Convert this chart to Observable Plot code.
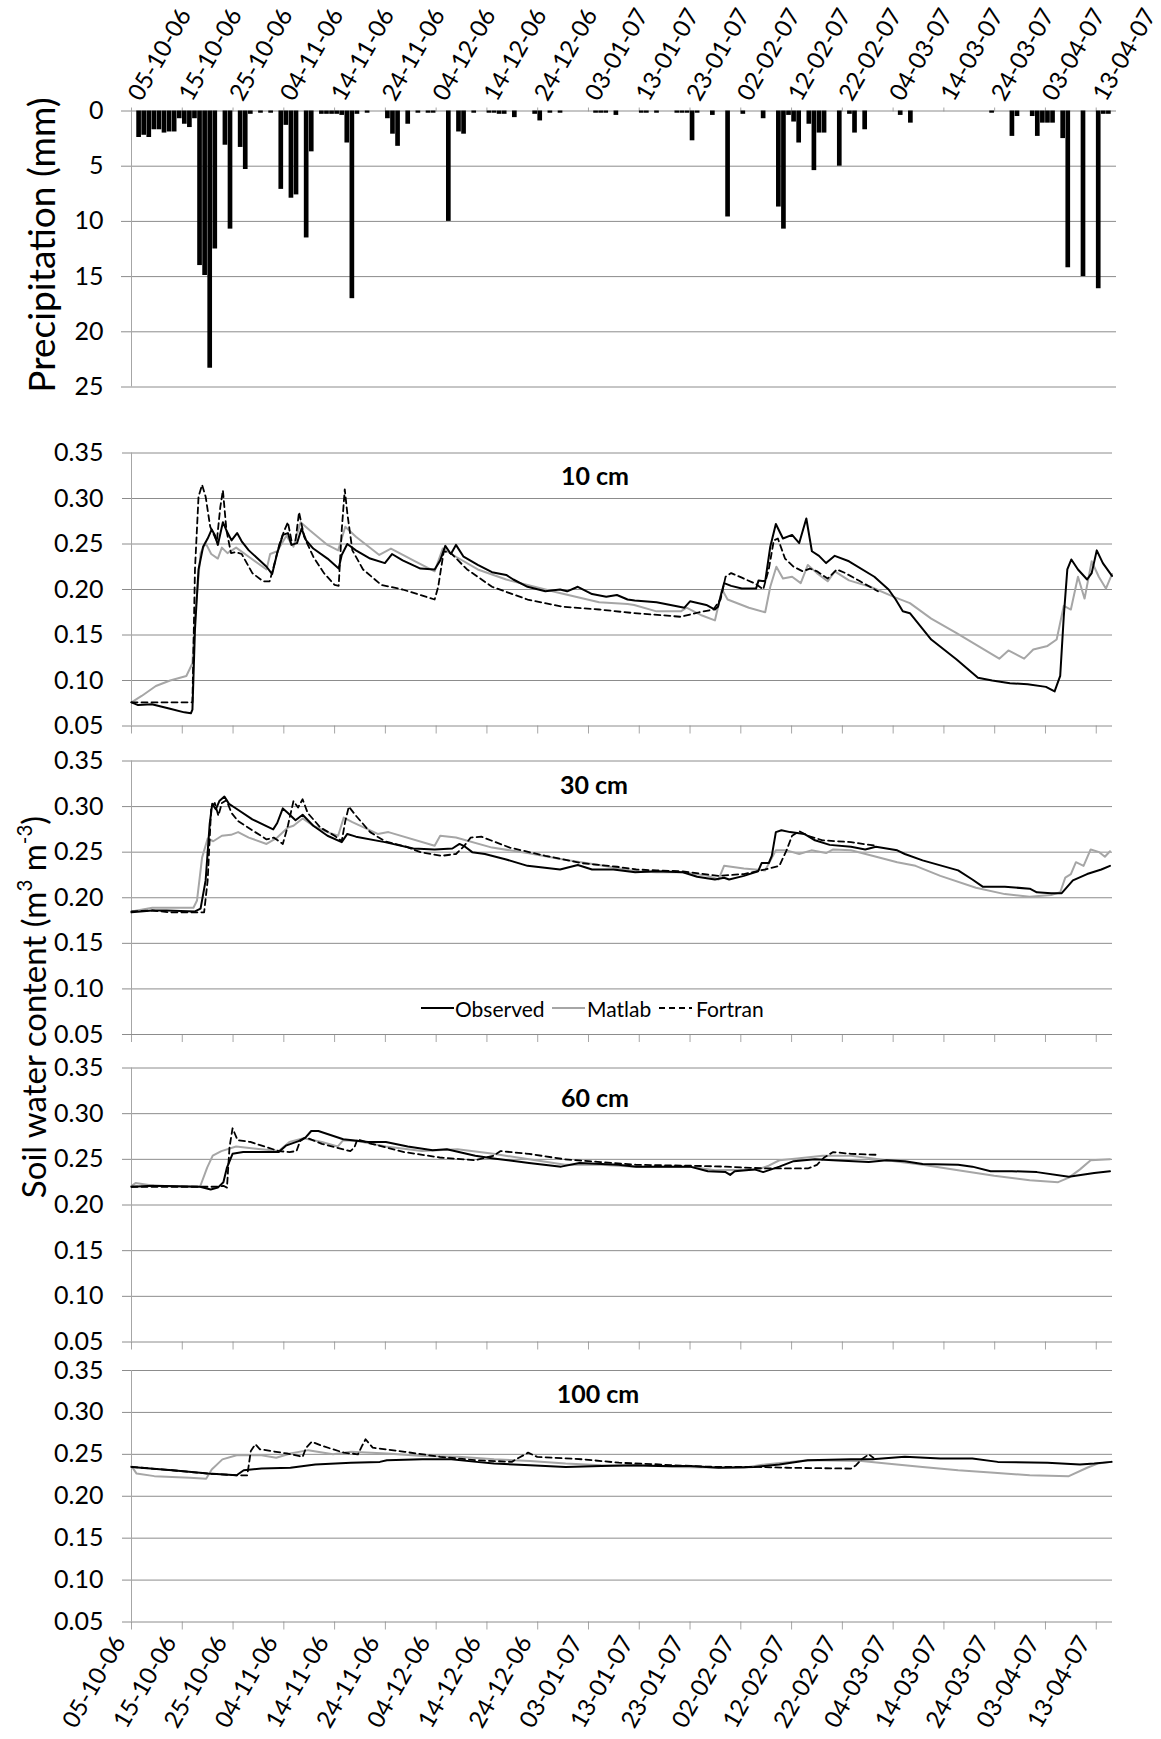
<!DOCTYPE html>
<html><head><meta charset="utf-8">
<script src="https://cdn.jsdelivr.net/npm/d3@7"></script>
<script src="https://cdn.jsdelivr.net/npm/@observablehq/plot@0.6"></script>
<style>
html,body{margin:0;padding:0;background:#fff;}
#chart{position:relative;width:1161px;height:1739px;overflow:hidden;font-family:Lato,"Open Sans",sans-serif;color:#000;background:#fff;}
.panel{position:absolute;left:0;}
.title{position:absolute;font-weight:700;font-size:25px;transform:translate(-50%,-50%);white-space:nowrap;}
.ylab{position:absolute;font-size:37px;transform:translate(-50%,-50%) rotate(-90deg);white-space:nowrap;}
.ylab.soil{font-size:33px;}
.ylab sup{font-size:62%;position:relative;top:-0.1em;}
.leg{position:absolute;font-size:21px;white-space:nowrap;transform:translateY(-50%);line-height:1;}
.sw{position:absolute;transform:translateY(-50%);}
</style></head><body><div id="chart"></div><script>
// ---------- data ----------
const tickLabels = ["05-10-06","15-10-06","25-10-06","04-11-06","14-11-06","24-11-06","04-12-06","14-12-06","24-12-06","03-01-07","13-01-07","23-01-07","02-02-07","12-02-07","22-02-07","04-03-07","14-03-07","24-03-07","03-04-07","13-04-07"];
const precipTicks = [0,5,10,15,20,25];
const swcTicks = [0.05,0.10,0.15,0.20,0.25,0.30,0.35];
const panelTitles = ["10 cm","30 cm","60 cm","100 cm"];
const seriesNames = ["Observed","Matlab","Fortran"];
const precipLabel = "Precipitation (mm)";

// [day since 05-10-06, mm]
const precip = [[1,2.4],[2,2.2],[3,2.4],[4,1.7],[5,1.7],[6,2.0],[7,1.9],[8,1.9],[9,0.7],[10,1.2],[11,1.5],[12,0.7],[13,14.0],[14,14.9],[15,23.3],[16,12.5],[18,3.1],[19,10.7],[21,3.3],[22,5.3],[23,0.3],[25,0.2],[27,0.2],[29,7.1],[30,1.3],[31,7.9],[32,7.6],[34,11.5],[35,3.7],[37,0.3],[38,0.3],[39,0.3],[40,0.3],[41,0.4],[42,2.9],[43,17.0],[44,0.3],[46,0.2],[50,0.7],[51,2.1],[52,3.2],[54,1.2],[56,0.2],[58,0.2],[59,0.2],[62,10.0],[64,1.9],[65,2.1],[67,0.2],[70,0.2],[71,0.2],[72,0.3],[73,0.3],[75,0.6],[79,0.3],[80,0.9],[82,0.2],[84,0.2],[91,0.2],[92,0.2],[93,0.2],[95,0.4],[100,0.2],[101,0.2],[103,0.2],[107,0.2],[108,0.2],[109,0.2],[110,2.7],[111,0.2],[114,0.4],[117,9.6],[120,0.3],[124,0.7],[127,8.7],[128,10.7],[129,0.4],[130,1.0],[131,2.9],[133,1.2],[134,5.4],[135,2.0],[136,2.0],[139,5.0],[141,0.3],[142,2.0],[144,1.7],[151,0.4],[153,1.1],[169,0.2],[173,2.3],[174,0.5],[177,0.5],[178,2.3],[179,1.1],[180,1.1],[181,1.1],[183,2.5],[184,14.2],[187,15.0],[190,16.1],[191,0.3],[192,0.3]];

// [day since 05-10-06, m3 m-3]
const obs10 = [[0,0.076],[1.3,0.073],[4,0.074],[7.6,0.069],[10.4,0.065],[11.7,0.064],[12,0.068],[12.5,0.156],[13.2,0.222],[14.1,0.247],[15,0.256],[15.8,0.266],[16.4,0.260],[17,0.249],[18,0.274],[18.7,0.265],[19.7,0.254],[20.8,0.262],[21.7,0.253],[23.1,0.243],[26.6,0.225],[27.7,0.217],[28.7,0.240],[29.8,0.260],[30.8,0.262],[31.5,0.249],[32.6,0.251],[33.5,0.267],[34.4,0.254],[35.8,0.245],[38.6,0.234],[40.8,0.223],[41.4,0.238],[42.5,0.250],[44.2,0.243],[47,0.234],[49.9,0.229],[51.3,0.239],[53.4,0.232],[56.9,0.223],[59.7,0.222],[60.8,0.232],[61.8,0.248],[62.9,0.239],[63.9,0.249],[65.4,0.236],[68.2,0.227],[71,0.219],[73.8,0.216],[75.2,0.211],[78,0.203],[81.5,0.198],[84.4,0.200],[85.8,0.198],[87.9,0.203],[90.7,0.195],[93.5,0.192],[95.6,0.194],[97.7,0.189],[99.1,0.188],[103.4,0.186],[108.9,0.180],[110,0.187],[113.2,0.183],[114.9,0.178],[115.5,0.181],[116.7,0.207],[118.1,0.204],[120.2,0.201],[123,0.201],[123.5,0.210],[124.8,0.209],[125.8,0.247],[126.9,0.272],[128.3,0.256],[130.1,0.260],[131.5,0.251],[132.9,0.278],[134,0.242],[135.4,0.237],[136.8,0.229],[138.5,0.237],[141.3,0.231],[146.3,0.214],[149.1,0.200],[150.5,0.189],[151.9,0.176],[153.3,0.174],[157.5,0.145],[162.5,0.123],[166.7,0.103],[169.5,0.100],[173,0.097],[176.5,0.096],[180.1,0.093],[181.8,0.088],[182.9,0.105],[183.6,0.170],[184.3,0.222],[185.1,0.233],[186.4,0.222],[188.2,0.211],[189.1,0.218],[190.1,0.243],[191.3,0.229],[193.1,0.215]];
const mat10 = [[0,0.076],[2,0.083],[4.8,0.094],[7.6,0.100],[10.8,0.105],[12,0.119],[12.5,0.170],[13.6,0.240],[14.6,0.251],[15.7,0.239],[17,0.234],[17.8,0.246],[18.9,0.240],[20.6,0.246],[23.1,0.236],[26.6,0.222],[27.3,0.239],[28.7,0.242],[30.5,0.259],[31.9,0.247],[33.3,0.274],[35.1,0.265],[38.6,0.249],[40.7,0.243],[42.1,0.269],[44.2,0.258],[48.8,0.238],[51.1,0.245],[55.5,0.232],[59.7,0.220],[61.3,0.245],[63.9,0.236],[68.2,0.222],[73.8,0.211],[78,0.205],[83.7,0.197],[92.1,0.186],[97.7,0.184],[99,0.183],[103.4,0.176],[108.2,0.176],[109.3,0.180],[112.1,0.172],[114.9,0.166],[116.3,0.200],[117.4,0.189],[121.6,0.180],[124.8,0.175],[125.8,0.203],[127,0.225],[128.3,0.212],[130.1,0.214],[131.8,0.207],[133.2,0.227],[135,0.218],[137.1,0.209],[138.5,0.220],[141.3,0.210],[145.5,0.203],[150.5,0.191],[153.3,0.185],[157.5,0.168],[162.5,0.152],[166.7,0.138],[170.9,0.124],[172.7,0.133],[175.8,0.124],[177.6,0.134],[180.4,0.138],[182.2,0.145],[183.6,0.182],[185,0.178],[186.4,0.214],[187.7,0.190],[189.1,0.231],[190.5,0.214],[191.9,0.201],[193.1,0.217]];
const for10 = [[0,0.076],[12,0.076],[12.5,0.222],[13.2,0.302],[13.9,0.315],[14.6,0.302],[15.5,0.269],[16.8,0.253],[17.5,0.291],[18,0.309],[18.7,0.265],[19.6,0.240],[20.6,0.241],[21.7,0.239],[23.8,0.218],[25.9,0.209],[27.2,0.209],[28,0.225],[29.1,0.249],[30.1,0.265],[30.8,0.274],[31.5,0.254],[32.3,0.254],[33,0.285],[34,0.258],[35.8,0.236],[37.9,0.218],[40,0.205],[40.8,0.204],[41.4,0.265],[42,0.310],[42.5,0.284],[43.5,0.243],[45.6,0.222],[49.2,0.205],[53.4,0.200],[59.7,0.189],[60.4,0.203],[61.5,0.242],[62.9,0.240],[66.1,0.222],[71,0.203],[78,0.189],[85,0.181],[92.1,0.178],[99,0.174],[106.1,0.171],[108.2,0.170],[111.8,0.175],[114.6,0.178],[116,0.189],[117,0.214],[118.1,0.218],[120.2,0.213],[123,0.206],[124.4,0.200],[125.5,0.222],[126.5,0.254],[127.3,0.256],[128.7,0.234],[130.4,0.225],[132.2,0.220],[133.6,0.223],[135,0.220],[137.1,0.212],[138.9,0.222],[140.6,0.218],[143.5,0.209],[147,0.198]];

const obs30 = [[0,0.184],[4.1,0.186],[6.9,0.186],[12.5,0.185],[13.6,0.188],[14.6,0.219],[15.4,0.281],[15.9,0.303],[16.6,0.297],[17.3,0.306],[18.3,0.311],[19.2,0.303],[20.3,0.299],[23.8,0.286],[27.9,0.275],[28.7,0.282],[29.8,0.298],[30.8,0.293],[32.3,0.285],[33.7,0.291],[35.8,0.279],[38.6,0.268],[41.4,0.261],[42.5,0.270],[44.2,0.267],[49.9,0.261],[55.5,0.254],[59.7,0.253],[63.2,0.254],[64.6,0.259],[65.7,0.256],[67.1,0.250],[69.6,0.248],[73.8,0.242],[78,0.235],[84.4,0.231],[87.9,0.236],[90.7,0.231],[94.9,0.231],[99.2,0.228],[103.4,0.229],[108.6,0.228],[111.4,0.223],[114.9,0.220],[116.7,0.222],[117.7,0.220],[120.6,0.224],[123.4,0.229],[124.1,0.238],[125.5,0.238],[126.1,0.246],[126.9,0.272],[128,0.274],[129.7,0.272],[132.5,0.270],[134.6,0.263],[137.5,0.258],[141.7,0.256],[144.5,0.253],[146.6,0.256],[150.8,0.252],[152.3,0.248],[155.8,0.241],[162.8,0.230],[165.6,0.220],[167.7,0.212],[172,0.212],[176.9,0.210],[178.3,0.206],[181.1,0.205],[183.2,0.205],[185.4,0.219],[188.2,0.226],[191,0.231],[192.7,0.235]];
const mat30 = [[0,0.185],[4.1,0.189],[12.2,0.189],[12.9,0.197],[13.9,0.244],[15,0.265],[16.1,0.262],[17.8,0.268],[19.6,0.269],[21,0.272],[23.1,0.266],[26.6,0.259],[28.7,0.266],[30.8,0.277],[31.9,0.279],[33.7,0.287],[35.8,0.279],[38.6,0.272],[40.7,0.268],[41.8,0.288],[43.5,0.283],[48.5,0.270],[50.6,0.272],[59.7,0.257],[60.8,0.268],[63.9,0.266],[71,0.255],[78,0.249],[85,0.242],[92.1,0.236],[99.2,0.229],[103.4,0.228],[108.6,0.228],[113.5,0.224],[115.6,0.220],[116.7,0.235],[120.6,0.232],[124.8,0.230],[126.9,0.252],[129,0.252],[131.5,0.248],[133.9,0.252],[136.8,0.249],[138.2,0.253],[141.7,0.252],[145.9,0.246],[150.8,0.239],[154.4,0.235],[159.3,0.224],[166.3,0.211],[172,0.204],[176.9,0.201],[181.1,0.203],[182.9,0.206],[183.9,0.222],[185,0.226],[186,0.239],[187.5,0.235],[188.9,0.253],[190.6,0.250],[191.7,0.245],[192.7,0.251]];
const for30 = [[0,0.185],[4.1,0.186],[7.6,0.184],[14.3,0.184],[15,0.219],[15.7,0.299],[16.4,0.304],[17.1,0.290],[17.8,0.304],[18.7,0.307],[19.7,0.293],[21,0.284],[23.8,0.274],[26.6,0.264],[28,0.266],[29.8,0.259],[30.8,0.279],[31.9,0.306],[32.8,0.299],[33.7,0.308],[34.7,0.293],[37.2,0.277],[40,0.268],[41.4,0.262],[42.1,0.284],[42.8,0.300],[44.2,0.290],[47,0.272],[49.9,0.262],[54.1,0.256],[56.9,0.250],[61.1,0.246],[63.9,0.248],[65.4,0.256],[66.8,0.266],[68.9,0.267],[74.5,0.255],[81.5,0.246],[88.6,0.238],[95.6,0.234],[99.4,0.231],[103.4,0.230],[108.6,0.229],[115.6,0.224],[120.6,0.226],[124.8,0.231],[127.6,0.235],[129,0.252],[130.1,0.268],[131.5,0.273],[133.2,0.268],[136.1,0.263],[141.7,0.261],[146.6,0.257]];

const obs60 = [[0,0.220],[4.4,0.221],[13.5,0.220],[15.6,0.217],[17,0.219],[18.1,0.225],[18.8,0.241],[19.9,0.256],[22,0.258],[29,0.258],[30.4,0.265],[32.9,0.270],[34.3,0.274],[35.4,0.281],[36.8,0.281],[41.7,0.272],[46.6,0.269],[50.1,0.269],[54.4,0.264],[59.3,0.260],[62.1,0.261],[67.7,0.254],[71.3,0.251],[78.3,0.246],[84.6,0.242],[88.2,0.246],[95.9,0.244],[99.4,0.242],[103.7,0.242],[110,0.242],[113.5,0.237],[117,0.236],[117.9,0.233],[118.8,0.237],[122.7,0.239],[124.4,0.236],[127.6,0.242],[130.4,0.248],[134.6,0.250],[138.2,0.249],[145.2,0.247],[148.7,0.249],[152.3,0.248],[155.8,0.245],[162.8,0.244],[165.6,0.242],[169.2,0.237],[173.4,0.237],[178.3,0.236],[184.6,0.231],[189.6,0.235],[192.7,0.237]];
const mat60 = [[0,0.221],[0.8,0.224],[4.4,0.221],[13.5,0.220],[14.9,0.241],[16,0.254],[17.7,0.259],[20.6,0.264],[25.5,0.261],[29,0.259],[31.1,0.269],[33.9,0.273],[37.5,0.269],[40.6,0.264],[41.7,0.271],[44.5,0.270],[50.1,0.264],[57.2,0.259],[64.2,0.261],[71.3,0.256],[78.3,0.250],[85.4,0.244],[92.4,0.244],[99.4,0.242],[103.7,0.242],[110,0.242],[114.9,0.238],[123.4,0.239],[125.5,0.243],[127.6,0.249],[131.1,0.251],[136.1,0.254],[141.7,0.254],[148.7,0.249],[155.8,0.244],[162.8,0.238],[169.9,0.232],[176.9,0.227],[182.5,0.225],[184.6,0.230],[186.8,0.239],[188.9,0.249],[192.7,0.250]];
const for60 = [[0,0.220],[17,0.220],[18.1,0.221],[18.8,0.219],[19.3,0.263],[19.9,0.284],[20.9,0.271],[23.4,0.269],[29,0.259],[31.1,0.258],[32.5,0.259],[33.2,0.270],[34.3,0.274],[37.5,0.267],[43.1,0.259],[43.9,0.263],[44.5,0.272],[47.3,0.267],[53.7,0.258],[60.7,0.252],[67.7,0.249],[71.3,0.254],[72.7,0.259],[78.3,0.256],[85.4,0.250],[92.4,0.247],[99.4,0.244],[110,0.243],[117,0.242],[124.8,0.240],[133.2,0.240],[135,0.244],[136.4,0.252],[138.2,0.258],[141.7,0.256],[146.6,0.255]];

const obs100 = [[0,0.235],[8,0.231],[15.1,0.227],[20.7,0.225],[22.1,0.231],[25.6,0.233],[31.3,0.234],[36.2,0.238],[43.2,0.240],[48.9,0.241],[50.3,0.243],[57.3,0.244],[63,0.244],[67.9,0.241],[71.4,0.239],[78.5,0.237],[85.5,0.235],[92.5,0.236],[99.4,0.237],[103.8,0.236],[110,0.236],[115.6,0.234],[122.7,0.235],[127.6,0.238],[133.2,0.243],[141.7,0.244],[145.9,0.244],[152.3,0.247],[159.3,0.245],[165.6,0.245],[170.6,0.241],[180.4,0.240],[186.8,0.238],[189.6,0.239],[193,0.241]];
const mat100 = [[0,0.236],[1,0.227],[4.5,0.224],[11.5,0.222],[14.7,0.221],[15.8,0.232],[17.9,0.244],[20.7,0.249],[25.6,0.249],[28.5,0.246],[31.3,0.251],[34.8,0.255],[39.7,0.250],[43.2,0.253],[50.3,0.251],[57.3,0.248],[64.4,0.247],[71.4,0.244],[78.5,0.242],[85.5,0.239],[92.5,0.237],[103.8,0.236],[106.5,0.235],[120.6,0.234],[124.8,0.238],[133.2,0.243],[143.8,0.242],[148.7,0.239],[155.8,0.235],[162.8,0.231],[169.9,0.228],[176.9,0.225],[184.6,0.224],[188.2,0.234],[190.3,0.239],[193,0.241]];
const for100 = [[0,0.235],[8,0.231],[15.1,0.227],[20.7,0.225],[22.8,0.225],[23.5,0.254],[24.4,0.262],[25.3,0.256],[30.6,0.251],[33.7,0.247],[34.4,0.258],[35.5,0.265],[37.6,0.260],[41.8,0.252],[44.6,0.250],[45.4,0.260],[46.1,0.268],[47.5,0.258],[53.8,0.253],[60.8,0.247],[67.9,0.243],[74.9,0.241],[76.3,0.246],[78.1,0.252],[79.9,0.247],[89,0.244],[96,0.240],[103.8,0.238],[106.5,0.237],[114.9,0.235],[123.4,0.235],[129,0.234],[141.7,0.233],[142.7,0.237],[143.8,0.244],[145.2,0.250],[146.1,0.246]];

// ---------- layout & style ----------
const W = 1161;
const FONT = "Lato, 'Open Sans', sans-serif";
const GRID = "#8c8c8c", AXIS = "#a6a6a6", MATLAB = "#a6a6a6", INK = "#000";
const DATE_FS = 24, DATE_ROT = -60;
const start = new Date(Date.UTC(2006, 9, 5));
const day = d => new Date(start.getTime() + d * 864e5);
const parseTick = d3.utcParse("%d-%m-%y");
const tickDates = tickLabels.map(parseTick);
const fmt2 = d3.format(".2f");
const rows = s => s.map(([d, v]) => ({date: day(d), v}));

const chart = document.getElementById("chart");
function place(node, top) {
  const div = document.createElement("div");
  div.className = "panel"; div.style.top = top + "px";
  div.appendChild(node); chart.appendChild(div);
}

// precipitation panel
place(Plot.plot({
  width: W, height: 400, marginLeft: 131, marginRight: 45, marginTop: 110.5, marginBottom: 13.5,
  style: {background: "transparent", color: AXIS, fontFamily: FONT, overflow: "visible"},
  x: {type: "utc", domain: [start, day(194)], axis: "top", ticks: tickDates, tickSize: 4, tickFormat: () => "", label: null},
  y: {domain: [0, 25], reverse: true, axis: null},
  marks: [
    Plot.ruleY(precipTicks, {stroke: GRID, strokeWidth: 1, insetLeft: -10}),
    Plot.ruleX([start], {stroke: AXIS, strokeWidth: 1}),
    Plot.rect(precip, {x1: d => day(d[0]), x2: d => day(d[0] + 1), y1: 0, y2: d => d[1], fill: INK, insetLeft: 0.2, insetRight: 0.2}),
    Plot.text(precipTicks, {y: d => d, text: d => String(d), frameAnchor: "left", textAnchor: "end", dx: -28, fontSize: 25, fill: INK, fontFamily: FONT}),
    Plot.text(tickDates, {x: d => d, text: (d, i) => tickLabels[i], frameAnchor: "top", rotate: DATE_ROT, textAnchor: "start", dx: -5, dy: -17, fontSize: DATE_FS, fill: INK, fontFamily: FONT})
  ]
}), 0);

// soil water panels
const panels = [
  {obs: obs10, mat: mat10, fort: for10, top: 430, height: 310, y0: 452.5, y1: 725.5},
  {obs: obs30, mat: mat30, fort: for30, top: 740, height: 310, y0: 760.5, y1: 1034},
  {obs: obs60, mat: mat60, fort: for60, top: 1050, height: 305, y0: 1067.5, y1: 1341.5},
  {obs: obs100, mat: mat100, fort: for100, top: 1355, height: 384, y0: 1370, y1: 1621.5, labels: true}
];
panels.forEach(p => {
  const marks = [
    Plot.ruleY(swcTicks, {stroke: GRID, strokeWidth: 1, insetLeft: -9}),
    Plot.ruleX([start], {stroke: AXIS, strokeWidth: 1}),
    Plot.text(swcTicks, {y: d => d, text: d => fmt2(d), frameAnchor: "left", textAnchor: "end", dx: -28, fontSize: 25, fill: INK, fontFamily: FONT}),
    Plot.line(rows(p.mat), {x: "date", y: "v", stroke: MATLAB, strokeWidth: 2}),
    Plot.line(rows(p.fort), {x: "date", y: "v", stroke: INK, strokeWidth: 1.8, strokeDasharray: "6,4"}),
    Plot.line(rows(p.obs), {x: "date", y: "v", stroke: INK, strokeWidth: 2})
  ];
  if (p.labels) marks.push(Plot.text(tickDates, {x: d => d, text: (d, i) => tickLabels[i], frameAnchor: "bottom", rotate: DATE_ROT, textAnchor: "end", dx: -5, dy: 20, fontSize: DATE_FS, fill: INK, fontFamily: FONT}));
  place(Plot.plot({
    width: W, height: p.height, marginLeft: 131, marginRight: 49,
    marginTop: p.y0 - p.top, marginBottom: p.top + p.height - p.y1,
    style: {background: "transparent", color: AXIS, fontFamily: FONT, overflow: "visible"},
    x: {type: "utc", domain: [start, day(193.2)], axis: "bottom", ticks: tickDates, tickSize: 8, tickFormat: () => "", label: null},
    y: {domain: [0.05, 0.35], axis: null},
    marks
  }), p.top);
});

// titles
const titlePos = [[595, 475], [594, 783.5], [595, 1096.5], [598, 1392.5]];
panelTitles.forEach((t, i) => {
  const d = document.createElement("div");
  d.className = "title"; d.textContent = t;
  d.style.left = titlePos[i][0] + "px"; d.style.top = titlePos[i][1] + "px";
  chart.appendChild(d);
});

// axis titles
const yl1 = document.createElement("div");
yl1.className = "ylab"; yl1.textContent = precipLabel;
yl1.style.left = "40px"; yl1.style.top = "245px";
chart.appendChild(yl1);
const yl2 = document.createElement("div");
yl2.className = "ylab soil"; yl2.innerHTML = "Soil water content (m<sup>3</sup> m<sup>-3</sup>)";
yl2.style.left = "33px"; yl2.style.top = "1007px";
chart.appendChild(yl2);

// legend
const legY = 1008;
const legItems = [
  {sx: 421, tx: 455, stroke: INK, dash: null},
  {sx: 552, tx: 587, stroke: MATLAB, dash: null},
  {sx: 659, tx: 696, stroke: INK, dash: "6,4"}
];
legItems.forEach((it, i) => {
  const sw = document.createElementNS("http://www.w3.org/2000/svg", "svg");
  sw.setAttribute("width", 34); sw.setAttribute("height", 6);
  sw.setAttribute("class", "sw");
  sw.style.left = it.sx + "px"; sw.style.top = legY + "px";
  const ln = document.createElementNS("http://www.w3.org/2000/svg", "line");
  ln.setAttribute("x1", 0); ln.setAttribute("x2", 33); ln.setAttribute("y1", 3); ln.setAttribute("y2", 3);
  ln.setAttribute("stroke", it.stroke); ln.setAttribute("stroke-width", 2);
  if (it.dash) ln.setAttribute("stroke-dasharray", it.dash);
  sw.appendChild(ln); chart.appendChild(sw);
  const t = document.createElement("div");
  t.className = "leg"; t.textContent = seriesNames[i];
  t.style.left = it.tx + "px"; t.style.top = legY + "px";
  chart.appendChild(t);
});
</script></body></html>
